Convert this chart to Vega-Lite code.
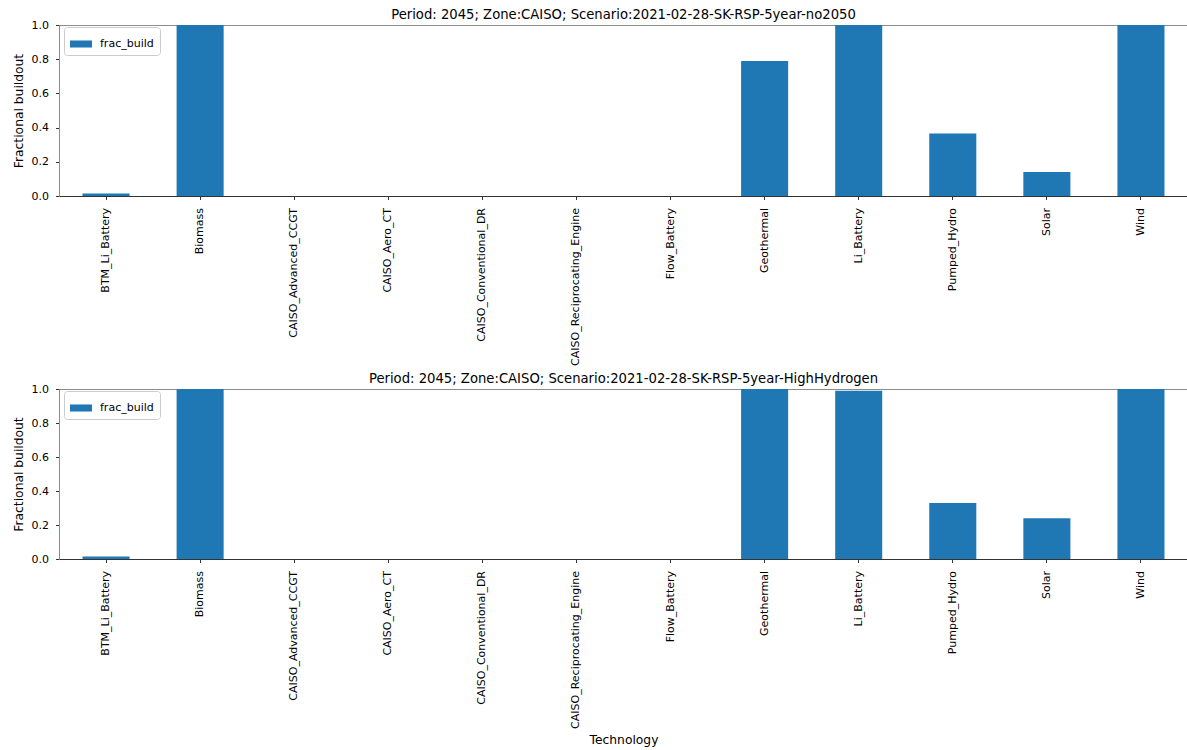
{
  "$schema": "https://vega.github.io/schema/vega-lite/v6.json",
  "padding": {"left": 11, "top": 7, "right": 0, "bottom": 0},
  "background": "white",
  "bounds": "flush",
  "spacing": 193,
  "config": {
    "font": "DejaVu Sans",
    "view": {"stroke": "#8c8c8c", "strokeWidth": 1},
    "axis": {
      "labelFont": "DejaVu Sans",
      "titleFont": "DejaVu Sans",
      "labelFontSize": 11,
      "titleFontSize": 12.3,
      "titleFontWeight": "normal",
      "labelColor": "#000000",
      "titleColor": "#000000",
      "tickColor": "#333333",
      "tickSize": 3.5,
      "grid": false
    },
    "title": {"font": "DejaVu Sans", "fontSize": 13.2, "fontWeight": "normal", "color": "#000000", "offset": -3, "anchor": "middle"},
    "legend": {
      "orient": "none",
      "legendX": 5,
      "legendY": 2,
      "padding": 6,
      "strokeColor": "#cccccc",
      "fillColor": "white",
      "cornerRadius": 3,
      "labelFont": "DejaVu Sans",
      "labelFontSize": 11,
      "labelColor": "#000000",
      "symbolType": "M-1,-0.32H1V0.32H-1Z",
      "symbolSize": 484,
      "symbolStrokeWidth": 0,
      "labelOffset": 8
    }
  },
  "resolve": {"scale": {"color": "independent"}, "legend": {"color": "independent"}},
  "vconcat": [
    {
      "title": "Period: 2045; Zone:CAISO; Scenario:2021-02-28-SK-RSP-5year-no2050",
      "width": 1129,
      "height": 171,
      "data": {"values": [
        {"Technology": "BTM_Li_Battery", "frac_build": 0.015},
        {"Technology": "Biomass", "frac_build": 1.0},
        {"Technology": "CAISO_Advanced_CCGT", "frac_build": 0.0},
        {"Technology": "CAISO_Aero_CT", "frac_build": 0.0},
        {"Technology": "CAISO_Conventional_DR", "frac_build": 0.0},
        {"Technology": "CAISO_Reciprocating_Engine", "frac_build": 0.0},
        {"Technology": "Flow_Battery", "frac_build": 0.0},
        {"Technology": "Geothermal", "frac_build": 0.79},
        {"Technology": "Li_Battery", "frac_build": 1.0},
        {"Technology": "Pumped_Hydro", "frac_build": 0.365},
        {"Technology": "Solar", "frac_build": 0.14},
        {"Technology": "Wind", "frac_build": 1.0}
      ]},
      "mark": {"type": "bar"},
      "encoding": {
        "x": {"field": "Technology", "type": "nominal", "sort": null,
              "scale": {"paddingInner": 0.5, "paddingOuter": 0.25},
              "axis": {"title": null, "labelAngle": -90, "labelPadding": 8, "domainColor": "#333333"}},
        "y": {"field": "frac_build", "type": "quantitative",
              "scale": {"domain": [0, 1], "nice": false},
              "axis": {"title": "Fractional buildout", "values": [0, 0.2, 0.4, 0.6, 0.8, 1.0], "format": ".1f", "labelPadding": 7, "titlePadding": 6, "domainColor": "#8c8c8c"}},
        "color": {"datum": "frac_build", "type": "nominal", "scale": {"range": ["#1f77b4"]}, "legend": {"title": null}}
      }
    },
    {
      "title": "Period: 2045; Zone:CAISO; Scenario:2021-02-28-SK-RSP-5year-HighHydrogen",
      "width": 1129,
      "height": 170,
      "data": {"values": [
        {"Technology": "BTM_Li_Battery", "frac_build": 0.015},
        {"Technology": "Biomass", "frac_build": 1.0},
        {"Technology": "CAISO_Advanced_CCGT", "frac_build": 0.0},
        {"Technology": "CAISO_Aero_CT", "frac_build": 0.0},
        {"Technology": "CAISO_Conventional_DR", "frac_build": 0.0},
        {"Technology": "CAISO_Reciprocating_Engine", "frac_build": 0.0},
        {"Technology": "Flow_Battery", "frac_build": 0.0},
        {"Technology": "Geothermal", "frac_build": 1.0},
        {"Technology": "Li_Battery", "frac_build": 0.99},
        {"Technology": "Pumped_Hydro", "frac_build": 0.33},
        {"Technology": "Solar", "frac_build": 0.24},
        {"Technology": "Wind", "frac_build": 1.0}
      ]},
      "mark": {"type": "bar"},
      "encoding": {
        "x": {"field": "Technology", "type": "nominal", "sort": null,
              "scale": {"paddingInner": 0.5, "paddingOuter": 0.25},
              "axis": {"title": "Technology", "labelAngle": -90, "labelPadding": 8, "titlePadding": 5, "domainColor": "#333333"}},
        "y": {"field": "frac_build", "type": "quantitative",
              "scale": {"domain": [0, 1], "nice": false},
              "axis": {"title": "Fractional buildout", "values": [0, 0.2, 0.4, 0.6, 0.8, 1.0], "format": ".1f", "labelPadding": 7, "titlePadding": 6, "domainColor": "#8c8c8c"}},
        "color": {"datum": "frac_build", "type": "nominal", "scale": {"range": ["#1f77b4"]}, "legend": {"title": null}}
      }
    }
  ]
}
